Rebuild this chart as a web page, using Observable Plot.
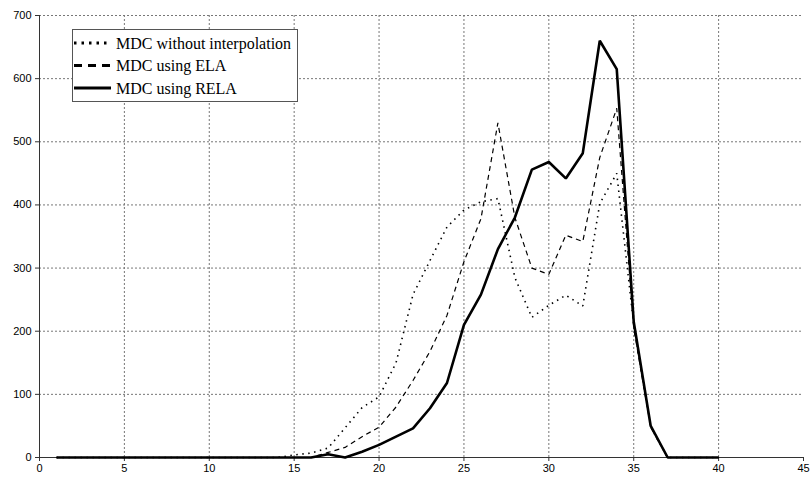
<!DOCTYPE html>
<html>
<head>
<meta charset="utf-8">
<script src="https://cdn.jsdelivr.net/npm/d3@7"></script>
<script src="https://cdn.jsdelivr.net/npm/@observablehq/plot@0.6"></script>
<style>
  body { margin: 0; background: #fff; }
  #wrap { position: relative; width: 811px; height: 483px; }
  #legend { position: absolute; left: 72px; top: 29px; width: 224px; height: 71px;
            border: 1px solid #555; background: #fff; }
  #legend svg { display: block; }
</style>
</head>
<body>
<div id="wrap"><div id="legend"></div></div>
<script>
// ---- data ----
const xs = [1,2,3,4,5,6,7,8,9,10,11,12,13,14,15,16,17,18,19,20,
            21,22,23,24,25,26,27,28,29,30,31,32,33,34,35,36,37,38,39,40];

const mdcNoInterp = [0,0,0,0,0,0,0,0,0,0,0,0,0,0,4,7,15,47,79,96,
                     150,258,312,365,392,405,410,285,222,241,257,240,402,450,210,48,0,0,0,0];

const mdcELA = [0,0,0,0,0,0,0,0,0,0,0,0,0,0,0,0,8,16,33,48,
                80,122,168,225,310,378,530,380,300,290,352,342,475,553,205,48,0,0,0,0];

const mdcRELA = [0,0,0,0,0,0,0,0,0,0,0,0,0,0,0,0,5,0,9,20,
                 33,46,78,118,210,258,330,380,456,468,442,482,660,615,215,50,0,0,0,0];

const seriesNames = ["MDC without interpolation", "MDC using ELA", "MDC using RELA"];
const xTicks = [0,5,10,15,20,25,30,35,40,45];
const yTicks = [0,100,200,300,400,500,600,700];

// ---- build table ----
const seriesValues = [mdcNoInterp, mdcELA, mdcRELA];
const rows = seriesNames.flatMap((name, k) =>
  seriesValues[k].map((v, i) => ({x: xs[i], y: v, s: name})));

const styles = {
  "MDC without interpolation": {strokeWidth: 1.6, strokeDasharray: "1.5,4.5"},
  "MDC using ELA": {strokeWidth: 1.2, strokeDasharray: "5,4"},
  "MDC using RELA": {strokeWidth: 2.6, strokeDasharray: null}
};

const lineMarks = seriesNames.map(name =>
  Plot.line(rows.filter(d => d.s === name), {
    x: "x", y: "y", stroke: "#000",
    strokeWidth: styles[name].strokeWidth,
    strokeDasharray: styles[name].strokeDasharray,
    strokeLinejoin: "miter", strokeLinecap: "butt"
  }));

const chart = Plot.plot({
  width: 811, height: 483,
  marginLeft: 39, marginRight: 8, marginTop: 15, marginBottom: 26,
  x: {domain: [0, 45], label: null},
  y: {domain: [0, 700], label: null},
  style: {fontFamily: "'Liberation Sans', Arial, sans-serif", fontSize: "11px", color: "#000", background: "#fff", overflow: "visible"},
  marks: [
    Plot.gridY(yTicks.filter(d => d > 0), {stroke: "#777", strokeOpacity: 1, strokeDasharray: "2,2"}),
    Plot.gridX(xTicks.filter(d => d > 0 && d < 45), {stroke: "#777", strokeOpacity: 1, strokeDasharray: "2,2"}),
    Plot.axisY(yTicks, {tickSize: 4, tickPadding: 4, stroke: "#333", fill: "#000"}),
    Plot.axisX(xTicks, {tickSize: 4, tickPadding: 3, stroke: "#333", fill: "#000"}),
    Plot.ruleX([0], {stroke: "#333"}),
    Plot.ruleY([0], {stroke: "#333"}),
    ...lineMarks
  ]
});
document.getElementById("wrap").prepend(chart);

// ---- legend ----
const legendDash = {
  "MDC without interpolation": {w: 3, dash: "2.5,5"},
  "MDC using ELA": {w: 3, dash: "8,6"},
  "MDC using RELA": {w: 3, dash: null}
};
const lsvg = d3.select("#legend").append("svg").attr("width", 224).attr("height", 71);
seriesNames.forEach((name, i) => {
  const cy = 13 + i * 22.5;
  lsvg.append("line").attr("x1", 1).attr("x2", 38).attr("y1", cy).attr("y2", cy)
    .attr("stroke", "#000").attr("stroke-width", legendDash[name].w)
    .attr("stroke-dasharray", legendDash[name].dash);
  lsvg.append("text").attr("x", 43).attr("y", cy).attr("dy", "0.35em")
    .attr("font-family", "'Liberation Serif', 'Times New Roman', serif")
    .attr("font-size", 16).attr("fill", "#000").text(name);
});
</script>
</body>
</html>
